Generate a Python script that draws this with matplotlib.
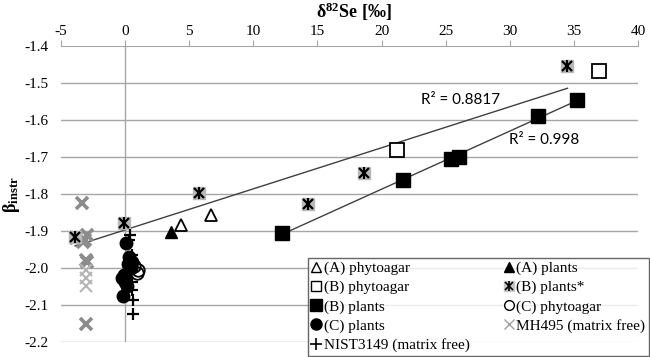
import numpy as np
import matplotlib
matplotlib.use("Agg")
import matplotlib.pyplot as plt
from matplotlib.ticker import FixedLocator, FuncFormatter
from matplotlib.lines import Line2D
from matplotlib.legend_handler import HandlerTuple

serif = "Liberation Serif"
plt.rcParams['axes.unicode_minus'] = False
plt.rcParams['mathtext.fontset'] = 'custom'
plt.rcParams['mathtext.bf'] = serif + ':bold'
plt.rcParams['mathtext.rm'] = serif
plt.rcParams['mathtext.it'] = serif + ':italic'

# ---- data (δ82Se, β_instr) ----
a_phyto_x = [4.35, 6.7]
a_phyto_y = [-1.884, -1.857]
a_plants_x = [3.55]
a_plants_y = [-1.902]
b_phyto_x = [21.2, 36.96]
b_phyto_y = [-1.681, -1.467]
b_plantsS_x = [-3.9, -0.05, 5.76, 14.3, 18.6, 34.5]
b_plantsS_y = [-1.916, -1.879, -1.797, -1.827, -1.742, -1.453]
b_plants_x = [12.2, 21.7, 25.45, 26.07, 32.2, 35.25]
b_plants_y = [-1.905, -1.762, -1.705, -1.699, -1.589, -1.546]
c_phyto_x = [1.04, 0.9, 0.7]
c_phyto_y = [-2.005, -2.014, -1.995]
c_plants_x = [0.5, 0.2, -0.25, 0.0, 0.15, -0.13, 0.3, 0.1, 0.45, -0.05]
c_plants_y = [-1.983, -1.99, -2.028, -2.037, -2.05, -2.076, -1.97, -1.932, -2.0, -2.02]
mh495_x = [-3.4, -3.8, -3.0, -3.3, -3.1, -3.05, -3.0, -3.05, -3.05, -3.05, -3.05]
mh495_y = [-1.825, -1.918, -1.912, -1.93, -1.925, -1.978, -1.985, -2.005, -2.027, -2.05, -2.15]
nist_x = [0.4, 0.5, 0.5, 0.5, 0.65, 0.6, 0.3]
nist_y = [-1.912, -1.965, -2.037, -2.06, -2.086, -2.124, -1.925]

r2_labels = ["R\u00b2 = 0.8817", "R\u00b2 = 0.998"]
x_ticks = [-5, 0, 5, 10, 15, 20, 25, 30, 35, 40]
y_ticks = [-1.4, -1.5, -1.6, -1.7, -1.8, -1.9, -2.0, -2.1, -2.2]

fig = plt.figure(figsize=(6.5, 3.57), dpi=100)
ax = fig.add_axes([61/650, 1-342/357, (638-61)/650, (342-46)/357])
ax.set_xlim(-5, 40)
ax.set_ylim(-2.2, -1.4)

# grid
for yv in y_ticks[1:]:
    ax.axhline(yv, color='#a6a6a6', lw=1.0, zorder=0)
ax.axvline(0, color='#a6a6a6', lw=1.0, zorder=0)

for s in ['left', 'right', 'bottom']:
    ax.spines[s].set_visible(False)
ax.spines['top'].set_color('#a6a6a6')
ax.xaxis.tick_top()
ax.xaxis.set_major_locator(FixedLocator(x_ticks))
ax.yaxis.set_major_locator(FixedLocator(y_ticks))
ax.yaxis.set_major_formatter(FuncFormatter(lambda v, p: "%.1f" % v))
ax.xaxis.set_major_formatter(FuncFormatter(lambda v, p: "%d" % v))
ax.tick_params(axis='x', direction='out', length=4, color='#a6a6a6', pad=2)
ax.tick_params(axis='y', length=0, pad=9)
for lab in ax.get_xticklabels() + ax.get_yticklabels():
    lab.set_fontfamily(serif)
    lab.set_fontsize(11)

# trendlines
def trend(xs, ys):
    k, b = np.polyfit(xs, ys, 1)
    xx = np.array([min(xs), max(xs)])
    ax.plot(xx, k*xx + b, color='#404040', lw=1.0, zorder=1)

trend(b_plantsS_x, b_plantsS_y)
trend(b_plants_x, b_plants_y)

# series
mh_colors = ['#8c8c8c']*7 + ['#b5b5b5']*3 + ['#8c8c8c']
for x, y, c in zip(mh495_x, mh495_y, mh_colors):
    ax.plot([x], [y], ls='none', marker='x', ms=9, mew=2.6 if c == '#8c8c8c' else 1.5, color=c, zorder=2)
ax.plot(b_plantsS_x, b_plantsS_y, ls='none', marker='s', ms=8, color='#b8b8b8', mec='#b8b8b8', zorder=3)
ax.plot(b_plantsS_x, b_plantsS_y, ls='none', marker='x', ms=7, mew=1.6, color='black', zorder=4)
ax.plot(b_plantsS_x, b_plantsS_y, ls='none', marker='|', ms=8, mew=1.6, color='black', zorder=4)
ax.plot(a_phyto_x, a_phyto_y, ls='none', marker='^', ms=9, mfc='white', mec='black', mew=1.3, zorder=3)
ax.plot(a_plants_x, a_plants_y, ls='none', marker='^', ms=9, color='black', zorder=3)
ax.plot(b_phyto_x, b_phyto_y, ls='none', marker='s', ms=10, mfc='white', mec='black', mew=1.3, zorder=3)
ax.plot(b_plants_x, b_plants_y, ls='none', marker='s', ms=10, color='black', zorder=3)
ax.plot(c_phyto_x, c_phyto_y, ls='none', marker='o', ms=9, mfc='none', mec='black', mew=1.3, zorder=3)
ax.plot(c_plants_x, c_plants_y, ls='none', marker='o', ms=9, color='black', zorder=3)
ax.plot(nist_x, nist_y, ls='none', marker='+', ms=9, mew=1.6, color='black', zorder=5)

# R² labels
ax.text(26.2, -1.546, r2_labels[0], fontfamily='Lato', fontsize=11, ha='center', va='center')
ax.text(32.7, -1.654, r2_labels[1], fontfamily='Lato', fontsize=11, ha='center', va='center')

# axis titles
fig.text(354/650, 1-12/357, "\u03b4$^{\\mathbf{82}}$Se [\u2030]", fontfamily=serif, fontsize=13,
         fontweight='bold', ha='center', va='center')
fig.text(11/650, 1-195/357, "\u03b2$_{\\mathbf{instr}}$", fontfamily=serif, fontsize=13,
         fontweight='bold', rotation=90, ha='center', va='center')

# legend
h_aphy = Line2D([], [], ls='none', marker='^', ms=7, mfc='white', mec='black', mew=1.0)
h_apl = Line2D([], [], ls='none', marker='^', ms=7, color='black')
h_bphy = Line2D([], [], ls='none', marker='s', ms=7, mfc='white', mec='black', mew=1.0)
h_bps = (Line2D([], [], ls='none', marker='s', ms=7, color='#c8c8c8'),
         Line2D([], [], ls='none', marker='x', ms=6, mew=1.2, color='black'),
         Line2D([], [], ls='none', marker='|', ms=7, mew=1.2, color='black'))
h_bpl = Line2D([], [], ls='none', marker='s', ms=8, color='black')
h_cphy = Line2D([], [], ls='none', marker='o', ms=7, mfc='white', mec='black', mew=1.0)
h_cpl = Line2D([], [], ls='none', marker='o', ms=8, color='black')
h_mh = Line2D([], [], ls='none', marker='x', ms=7, mew=1.0, color='#a0a0a0')
h_nist = Line2D([], [], ls='none', marker='+', ms=8, mew=1.2, color='black')

handles = [h_aphy, h_bphy, h_bpl, h_cpl, h_nist, h_apl, h_bps, h_cphy, h_mh]
labels = ["(A) phytoagar", "(B) phytoagar", "(B) plants", "(C) plants", "NIST3149 (matrix free)",
          "(A) plants", "(B) plants*", "(C) phytoagar", "MH495 (matrix free)"]
leg = fig.legend(handles, labels, ncol=2, loc='lower left',
                 bbox_to_anchor=(308/650, 1/357, 341/650, 95/357), mode='expand',
                 prop={'family': serif, 'size': 11}, frameon=True, fancybox=False,
                 edgecolor='#404040', handlelength=0.6, handletextpad=0.2,
                 labelspacing=0.35, borderpad=0.25, columnspacing=1.0, borderaxespad=0,
                 handler_map={tuple: HandlerTuple(ndivide=1)})
leg.get_frame().set_linewidth(1.0)

fig.savefig("out.png", dpi=100)
